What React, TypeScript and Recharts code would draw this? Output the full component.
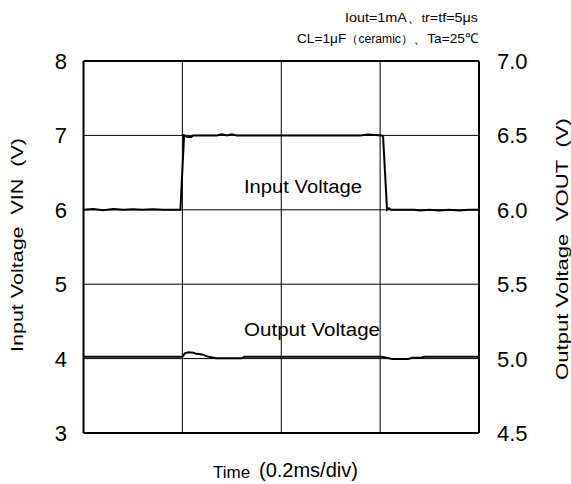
import React from "react";
import {
  LineChart,
  Line,
  XAxis,
  YAxis,
  CartesianGrid,
  ReferenceLine,
} from "recharts";

// Time in ms (0.2 ms/div, 4 divisions)
const xTicks = [0, 0.2, 0.4, 0.6, 0.8];
const leftTicks = [3, 4, 5, 6, 7, 8];
const rightTicks = [4.5, 5.0, 5.5, 6.0, 6.5, 7.0];

// Input voltage VIN (V), left axis
const inputTime = [
  0, 0.02, 0.04, 0.06, 0.08, 0.1, 0.12, 0.14, 0.16, 0.196, 0.2035, 0.21, 0.218,
  0.222, 0.27, 0.28, 0.29, 0.3, 0.31, 0.4, 0.56, 0.575, 0.59, 0.603, 0.606,
  0.614, 0.618, 0.622, 0.67, 0.68, 0.7, 0.72, 0.74, 0.76, 0.78, 0.8,
];
const inputVolt = [
  6.0, 6.01, 5.995, 6.01, 6.0, 6.008, 6.0, 6.006, 6.0, 6.0, 7.0, 6.98, 6.98,
  7.0, 7.0, 7.015, 7.0, 7.015, 7.0, 7.0, 7.0, 7.012, 7.005, 7.0, 6.98, 6.0,
  6.02, 6.0, 6.0, 5.99, 6.0, 5.99, 6.0, 5.99, 6.0, 6.0,
];

// Output voltage VOUT (V), right axis
const outputTime = [
  0, 0.2, 0.205, 0.212, 0.222, 0.228, 0.24, 0.25, 0.268, 0.32, 0.326, 0.6035,
  0.624, 0.657, 0.665, 0.684, 0.69, 0.8,
];
const outputVolt = [
  5.013, 5.013, 5.035, 5.042, 5.04, 5.032, 5.028, 5.015, 5.002, 5.002, 5.013,
  5.013, 4.997, 4.997, 5.005, 5.008, 5.013, 5.013,
];

const inputData = inputTime.map((t, i) => ({ t, v: inputVolt[i] }));
const outputData = outputTime.map((t, i) => ({ t, v: outputVolt[i] }));

const FONT = "'Liberation Sans', Arial, sans-serif";
const SP = "\u00a0";

const LeftTick = (props: any) => {
  const { y, payload } = props;
  return (
    <text
      x={67}
      y={y}
      dy={8}
      textAnchor="end"
      fontFamily={FONT}
      fontSize={22}
      fill="#000"
    >
      {payload.value}
    </text>
  );
};

const RightTick = (props: any) => {
  const { y, payload } = props;
  return (
    <text
      x={497}
      y={y}
      dy={8}
      textAnchor="start"
      fontFamily={FONT}
      fontSize={22}
      fill="#000"
    >
      {Number(payload.value).toFixed(1)}
    </text>
  );
};

export default function App() {
  return (
    <div
      style={{
        position: "absolute",
        left: 0,
        top: 0,
        width: 571,
        height: 484,
        background: "#fff",
      }}
    >
      <LineChart
        width={571}
        height={484}
        margin={{ top: 61, right: 0, bottom: 0, left: 0 }}
        style={{ position: "absolute", left: 0, top: 0 }}
      >
        <CartesianGrid
          yAxisId="left"
          stroke="#000"
          strokeWidth={1}
          vertical={false}
          horizontalValues={leftTicks}
        />
        <XAxis
          dataKey="t"
          type="number"
          domain={[0, 0.8]}
          ticks={xTicks}
          height={51}
          tick={false}
          tickLine={false}
          axisLine={{ stroke: "#000", strokeWidth: 2 }}
          allowDuplicatedCategory={false}
        />
        <YAxis
          yAxisId="left"
          orientation="left"
          domain={[3, 8]}
          ticks={leftTicks}
          width={83.5}
          tickLine={false}
          axisLine={{ stroke: "#000", strokeWidth: 2 }}
          tick={<LeftTick />}
          interval={0}
        />
        <YAxis
          yAxisId="right"
          orientation="right"
          domain={[4.5, 7.0]}
          ticks={rightTicks}
          width={92}
          tickLine={false}
          axisLine={{ stroke: "#000", strokeWidth: 2 }}
          tick={<RightTick />}
          interval={0}
        />
        {xTicks.slice(1, -1).map((x) => (
          <ReferenceLine
            key={x}
            yAxisId="left"
            x={x}
            stroke="#000"
            strokeWidth={1}
          />
        ))}
        <ReferenceLine yAxisId="left" y={8} stroke="#000" strokeWidth={2} />
        <Line
          yAxisId="left"
          data={inputData}
          dataKey="v"
          type="linear"
          stroke="#000"
          strokeWidth={2}
          dot={false}
          isAnimationActive={false}
        />
        <Line
          yAxisId="right"
          data={outputData}
          dataKey="v"
          type="linear"
          stroke="#000"
          strokeWidth={2}
          dot={false}
          isAnimationActive={false}
        />
      </LineChart>
      <svg
        width={571}
        height={484}
        style={{ position: "absolute", left: 0, top: 0, pointerEvents: "none" }}
      >
        <g fontFamily={FONT} fill="#000">
          <text
            x={345}
            y={22}
            fontSize={13.5}
            textLength={133}
            lengthAdjust="spacingAndGlyphs"
          >
            Iout=1mA、
            <tspan fontSize={11}>t</tspan>r=tf=5μs
          </text>
          <text
            x={297}
            y={43}
            fontSize={13.5}
            textLength={181}
            lengthAdjust="spacingAndGlyphs"
          >
            CL=1μF
            <tspan fontSize={12}>（ceramic）</tspan>、Ta=25℃
          </text>
          <text
            x={244}
            y={193}
            fontSize={18}
            textLength={118}
            lengthAdjust="spacingAndGlyphs"
          >
            Input Voltage
          </text>
          <text
            x={244}
            y={336}
            fontSize={18}
            textLength={136}
            lengthAdjust="spacingAndGlyphs"
          >
            Output Voltage
          </text>
          <text
            transform="translate(23,245) rotate(-90)"
            textAnchor="middle"
            fontSize={17}
            textLength={214}
            lengthAdjust="spacingAndGlyphs"
          >
            {`Input Voltage${SP}${SP}VIN${SP}${SP}(V)`}
          </text>
          <text
            transform="translate(568,249) rotate(-90)"
            textAnchor="middle"
            fontSize={17}
            textLength={262}
            lengthAdjust="spacingAndGlyphs"
          >
            {`Output Voltage${SP}${SP}VOUT${SP}${SP}(V)`}
          </text>
          <text x={213} y={478} fontSize={17}>
            Time
          </text>
          <text x={259} y={477} fontSize={20}>
            (0.2ms/div)
          </text>
        </g>
      </svg>
    </div>
  );
}
